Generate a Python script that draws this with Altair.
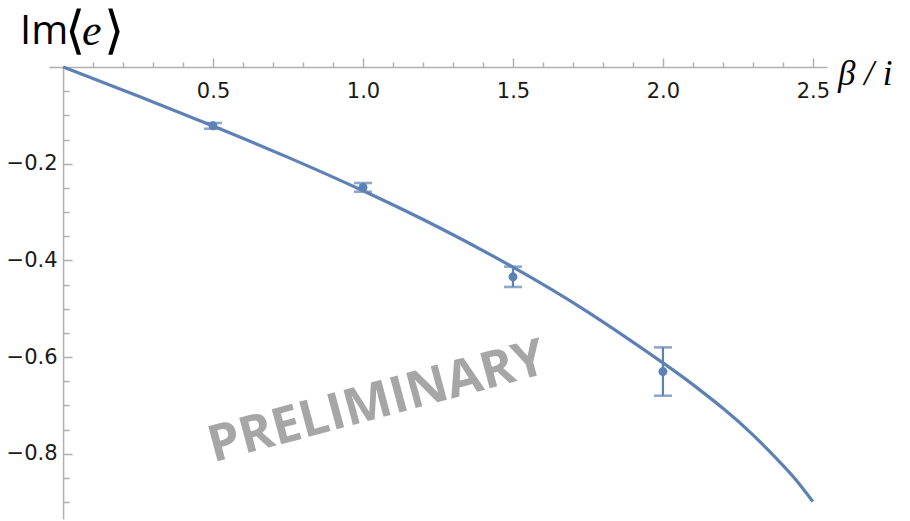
import altair as alt
import pandas as pd

# ---- data ----
beta_curve = [0.0, 0.25, 0.5, 0.75, 1.0, 1.25, 1.5, 1.75, 2.0, 2.1, 2.2, 2.3, 2.4, 2.45, 2.5]
im_curve = [0.0, -0.060, -0.122, -0.187, -0.256, -0.331, -0.414, -0.507, -0.612,
            -0.657, -0.706, -0.761, -0.824, -0.859, -0.899]

beta_pts = [0.5, 1.0, 1.5, 2.0]
im_pts = [-0.1217, -0.249, -0.434, -0.630]
im_err = [0.006, 0.009, 0.021, 0.050]

x_ticks = [0.1, 0.2, 0.3, 0.4, 0.5, 0.6, 0.7, 0.8, 0.9, 1.0, 1.1, 1.2, 1.3, 1.4, 1.5,
           1.6, 1.7, 1.8, 1.9, 2.0, 2.1, 2.2, 2.3, 2.4, 2.5]
y_ticks = [-0.9, -0.85, -0.8, -0.75, -0.7, -0.65, -0.6, -0.55, -0.5, -0.45, -0.4,
           -0.35, -0.3, -0.25, -0.2, -0.15, -0.1, -0.05]

title_parts = ["Im", "⟨", "e", "⟩"]
x_title = "β / i"
watermark = "PRELIMINARY"

# ---- layout ----
W, H = 778, 452
x_dom = [-0.047, 2.547]
y_dom = [-0.935, 0.0]
BLUE = "#5e81b5"
AXIS = "#b0b0b0"

curve_df = pd.DataFrame({"beta": beta_curve, "im": im_curve})
pts_df = pd.DataFrame({"beta": beta_pts, "im": im_pts, "err": im_err})
pts_df["lo"] = pts_df["im"] - pts_df["err"]
pts_df["hi"] = pts_df["im"] + pts_df["err"]

y0_px = W * (0 - x_dom[0]) / (x_dom[1] - x_dom[0])

x_major = "abs(round(datum.value*2) - datum.value*2) < 1e-6"
y_major = "abs(round(datum.value*5) - datum.value*5) < 1e-6"

x_axis = alt.Axis(
    orient="top", values=x_ticks, title=None, grid=False,
    domainColor=AXIS, domainWidth=1.5, tickColor=AXIS, tickWidth=1.5,
    tickSize={"condition": {"test": x_major, "value": 9}, "value": 5},
    labelExpr=f"{x_major} ? format(datum.value, '.1f') : ''",
    labelFont="DejaVu Sans", labelFontSize=21, labelColor="#1a1a1a",
    labelBaseline="alphabetic", labelPadding=-39,
    labelOverlap=False, labelFlush=False,
)
y_axis = alt.Axis(
    orient="right", offset=y0_px - W, values=y_ticks, title=None, grid=False,
    domainColor=AXIS, domainWidth=1.5, tickColor=AXIS, tickWidth=1.5,
    tickSize={"condition": {"test": y_major, "value": 9}, "value": 6},
    labelExpr=f"{y_major} ? format(datum.value, '.1f') : ''",
    labelFont="DejaVu Sans", labelFontSize=21, labelColor="#1a1a1a",
    labelAlign="right", labelBaseline="middle", labelPadding=-15,
    labelOverlap=False, labelFlush=False,
)

x_enc = alt.X("beta:Q", scale=alt.Scale(domain=x_dom, nice=False, zero=False), axis=x_axis)
y_enc = alt.Y("im:Q", scale=alt.Scale(domain=y_dom, nice=False, zero=False), axis=y_axis)


def y_of(field):
    return alt.Y(f"{field}:Q", scale=alt.Scale(domain=y_dom, nice=False, zero=False), axis=y_axis)


curve = alt.Chart(curve_df).mark_line(
    color=BLUE, strokeWidth=3.2, interpolate="natural", clip=False
).encode(x=x_enc, y=y_enc)

bars = alt.Chart(pts_df).mark_rule(color=BLUE, strokeWidth=2.2).encode(
    x=x_enc, y=y_of("lo"), y2="hi:Q")
caps_lo = alt.Chart(pts_df).mark_tick(color=BLUE, orient="horizontal", size=18, thickness=2.6).encode(
    x=x_enc, y=y_of("lo"))
caps_hi = alt.Chart(pts_df).mark_tick(color=BLUE, orient="horizontal", size=18, thickness=2.6).encode(
    x=x_enc, y=y_of("hi"))
dots = alt.Chart(pts_df).mark_point(filled=True, color=BLUE, size=80, opacity=1).encode(
    x=x_enc, y=y_enc)


def label(txt, x, y, **kw):
    return alt.Chart(pd.DataFrame({"t": [txt]})).mark_text(
        align="left", baseline="alphabetic", **kw
    ).encode(text="t:N", x=alt.value(x), y=alt.value(y))


t_im = label(title_parts[0], -29, -23, font="Open Sans", fontSize=40, color="black")
t_l = label(title_parts[1], 16, -19, font="DejaVu Sans", fontSize=52, fontWeight=200, color="black")
t_e = label(title_parts[2], 33, -22, font="Liberation Serif", fontStyle="italic", fontSize=44, color="black")
t_r = label(title_parts[3], 55, -19, font="DejaVu Sans", fontSize=52, fontWeight=200, color="black")
t_x = label(x_title, 789, 18, font="Liberation Serif", fontStyle="italic", fontSize=35, color="black")

wm = alt.Chart(pd.DataFrame({"t": [watermark]})).mark_text(
    align="center", baseline="middle", angle=345, font="Open Sans", fontWeight="bold",
    fontSize=51, color="#a6a6a6"
).encode(text="t:N", x=alt.value(328), y=alt.value(336))

chart = alt.layer(wm, curve, bars, caps_lo, caps_hi, dots, t_im, t_l, t_e, t_r, t_x).properties(
    width=W, height=H,
    autosize=alt.AutoSizeParams(type="none"),
    padding={"left": 41, "top": 59, "right": 75, "bottom": 2},
    background="white",
).configure_view(stroke=None)

chart.save("out.html", embed_options={"renderer": "svg", "actions": False})
